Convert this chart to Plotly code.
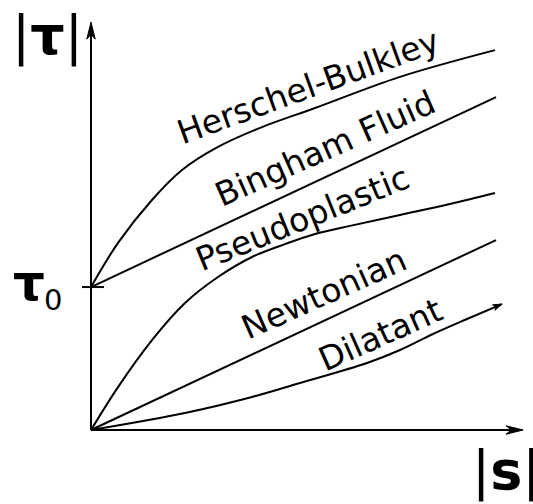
import numpy as np
import plotly.graph_objects as go

# ---- data (shear rate |S| vs shear stress |tau|) ----
tau0 = 3.53
hb_x = [0, 0.667, 1.505, 2.247, 3.136, 4.222, 5.531, 7.63, 9.975]
hb_y = [3.53, 4.62, 5.68, 6.42, 6.99, 7.48, 7.95, 8.72, 9.38]
bingham_x = [0, 10.0]
bingham_y = [3.53, 8.22]
pseudo_x = [0, 0.667, 1.506, 2.321, 3.136, 3.975, 4.79, 5.531, 6.395, 7.63, 8.86, 9.975]
pseudo_y = [0, 1.06, 2.22, 3.136, 3.778, 4.272, 4.59, 4.84, 5.04, 5.31, 5.58, 5.852]
newton_x = [0, 10.0]
newton_y = [0, 4.69]
dilatant_x = [0, 2.321, 3.975, 5.16, 6.815, 7.63, 8.444, 9.284, 10.148]
dilatant_y = [0, 0.42, 0.815, 1.16, 1.654, 1.975, 2.37, 2.74, 3.11]

labels = ["Herschel-Bulkley", "Bingham Fluid", "Pseudoplastic", "Newtonian", "Dilatant"]
label_x = [5.36, 5.78, 5.21, 5.75, 7.16]
label_y = [8.49, 6.94, 5.23, 3.36, 2.35]
label_angle = [-20, -24, -22, -24, -24]

W, H = 533, 504
PX = 40.5  # pixels per unit
x_range = [-91 / PX, (W - 91) / PX]
y_range = [-(H - 430) / PX, 430 / PX]

fig = go.Figure()
series = [(hb_x, hb_y, "spline"), (bingham_x, bingham_y, "linear"),
          (pseudo_x, pseudo_y, "spline"), (newton_x, newton_y, "linear"),
          (dilatant_x, dilatant_y, "spline")]
for xs, ys, shp in series:
    fig.add_trace(go.Scatter(x=xs, y=ys, mode="lines",
                             line=dict(color="black", width=2, shape=shp, smoothing=1.0),
                             hoverinfo="skip", showlegend=False))

shapes = []
# axes lines
y_tip = 10.07
x_tip = 10.67
shapes.append(dict(type="line", x0=0, y0=0, x1=0, y1=y_tip - 10 / PX,
                   line=dict(color="black", width=2)))
shapes.append(dict(type="line", x0=0, y0=0, x1=x_tip - 10 / PX, y1=0,
                   line=dict(color="black", width=2)))
# tau0 tick
shapes.append(dict(type="line", x0=-9 / PX, y0=tau0, x1=13 / PX, y1=tau0,
                   line=dict(color="black", width=2)))


def head(tx, ty, dx, dy, length, halfw, notch):
    n = np.hypot(dx, dy)
    ux, uy = dx / n, dy / n
    px, py = -uy, ux
    L, hw, nt = length / PX, halfw / PX, notch / PX
    pts = [(tx, ty),
           (tx - L * ux + hw * px, ty - L * uy + hw * py),
           (tx - nt * ux, ty - nt * uy),
           (tx - L * ux - hw * px, ty - L * uy - hw * py)]
    path = "M " + " L ".join(f"{a:.4f},{b:.4f}" for a, b in pts) + " Z"
    return dict(type="path", path=path, fillcolor="black",
                line=dict(color="black", width=1))


shapes.append(head(0, y_tip, 0, 1, 17, 4.2, 12))
shapes.append(head(x_tip, 0, 1, 0, 17, 4.2, 12))
shapes.append(head(dilatant_x[-1], dilatant_y[-1],
                   dilatant_x[-1] - dilatant_x[-2], dilatant_y[-1] - dilatant_y[-2],
                   9, 3, 6))

fig.update_layout(shapes=shapes)

font = "DejaVu Sans"
for t, x, y, a in zip(labels, label_x, label_y, label_angle):
    fig.add_annotation(x=x, y=y, text=t, textangle=a, showarrow=False,
                       font=dict(family=font, size=33, color="black"),
                       xanchor="center", yanchor="middle")

# axis titles
fig.add_annotation(x=(47 - 91) / PX, y=(430 - 35) / PX, text="|<b>τ</b>|", showarrow=False,
                   font=dict(family=font, size=54, color="black"),
                   xanchor="center", yanchor="middle")
fig.add_annotation(x=(506 - 91) / PX, y=(430 - 470) / PX, text="|<b>s</b>|", showarrow=False,
                   font=dict(family=font, size=54, color="black"),
                   xanchor="center", yanchor="middle")
fig.add_annotation(x=(29 - 91) / PX, y=(430 - 283) / PX, text="<b>τ</b>", showarrow=False,
                   font=dict(family=font, size=50, color="black"),
                   xanchor="center", yanchor="middle")
fig.add_annotation(x=(53 - 91) / PX, y=(430 - 300) / PX, text="0", showarrow=False,
                   font=dict(family=font, size=29, color="black"),
                   xanchor="center", yanchor="middle")

fig.update_layout(
    width=W, height=H, autosize=False,
    margin=dict(l=0, r=0, t=0, b=0),
    paper_bgcolor="white", plot_bgcolor="white",
    xaxis=dict(range=x_range, visible=False, fixedrange=True),
    yaxis=dict(range=y_range, visible=False, fixedrange=True),
    showlegend=False,
)
fig.write_html("out.html", config={"displayModeBar": False},
               post_script="document.body.style.margin='0px';")
